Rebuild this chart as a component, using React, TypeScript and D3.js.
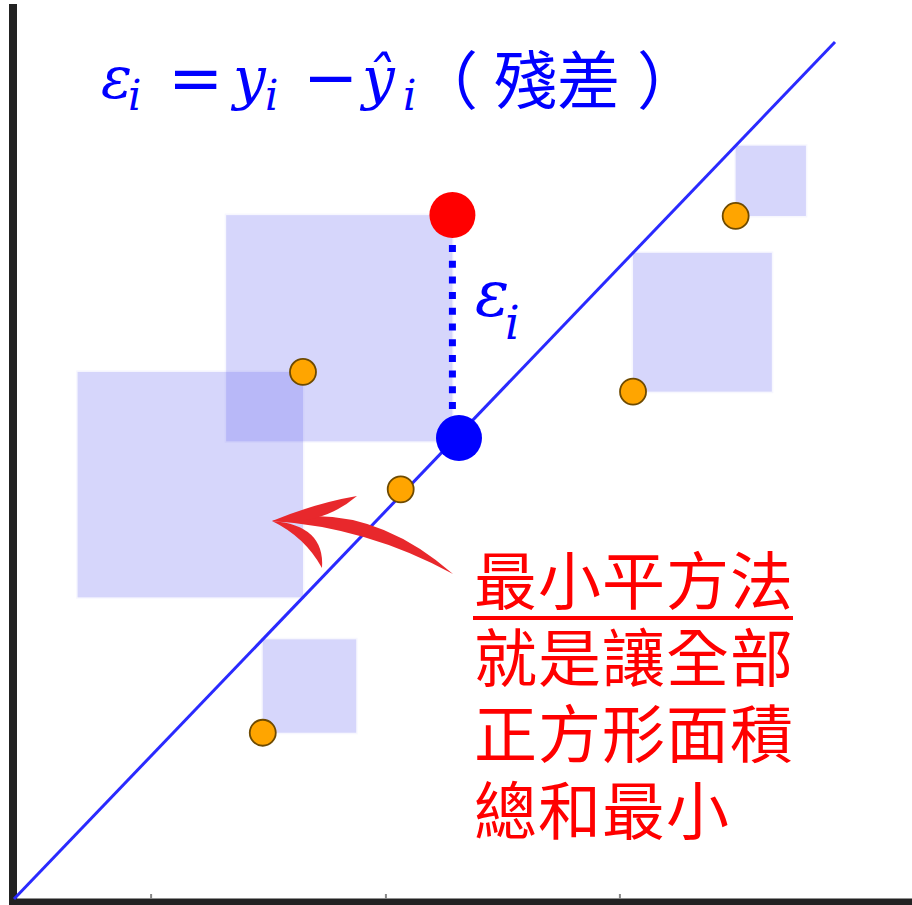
import React, { useEffect } from "react";
import * as d3 from "d3";

// ---- data ----
const xDomain = [0, 10];
const yDomain = [0, 10];
const lineIntercept = 0;
const lineSlope = 1;
const pointX = [3.52, 4.71, 7.54, 8.79, 3.03];
const pointY = [6.15, 4.78, 5.92, 7.97, 1.94];
const highlightX = 5.34;
const highlightY = 7.98;
const fittedX = 5.42;
const fittedY = 5.38;
const xTicks = [1.67, 4.53, 7.38];
const noteLines = ["最小平方法", "就是讓全部", "正方形面積", "總和最小"];
const titleCJK = "殘差";

const W = 912;
const H = 905;

export default function App() {
  useEffect(() => {
    document.body.style.margin = "0";
  }, []);

  const x = d3.scaleLinear().domain(xDomain).range([14, 835]);
  const y = d3.scaleLinear().domain(yDomain).range([899, 42]);
  const fit = (v: number) => lineIntercept + lineSlope * v;

  const allX = [...pointX, highlightX];
  const allY = [...pointY, highlightY];

  const squares = allX.map((vx, i) => {
    const py = y(allY[i]);
    const ly = y(fit(vx));
    const s = Math.abs(ly - py);
    const px = x(vx);
    const above = py < ly;
    return {
      x: above ? px - s : px,
      y: Math.min(py, ly),
      s,
    };
  });

  const linePath = d3.line<number>()
    .x((d) => x(d))
    .y((d) => y(fit(d)))(xDomain);

  const mathFont = "'DejaVu Serif', serif";
  const cjkFont = "'Noto Sans CJK TC', 'Noto Sans CJK SC', sans-serif";
  const blue = "#0000ff";

  return (
    <svg
      width={W}
      height={H}
      viewBox={`0 0 ${W} ${H}`}
      style={{ position: "absolute", left: 0, top: 0, display: "block", background: "#fff" }}
    >
      {/* residual squares */}
      {squares.map((sq, i) => (
        <g key={i}>
          <rect x={sq.x - 1.5} y={sq.y - 1.5} width={sq.s + 3} height={sq.s + 3} fill="#6464f0" opacity={0.05} />
          <rect x={sq.x} y={sq.y} width={sq.s} height={sq.s} fill="#6464f0" opacity={0.22} />
        </g>
      ))}

      {/* axes */}
      <line x1={13} y1={4} x2={13} y2={905} stroke="#222" strokeWidth={8} />
      <line x1={9} y1={902} x2={912} y2={902} stroke="#222" strokeWidth={7} />
      {xTicks.map((t, i) => (
        <line key={i} x1={x(t)} y1={894} x2={x(t)} y2={899} stroke="#888" strokeWidth={2} />
      ))}

      {/* regression line */}
      <path d={linePath || ""} stroke="#2a2aff" strokeWidth={3} fill="none" />

      {/* residual dotted line */}
      <line
        x1={x(highlightX)}
        y1={245}
        x2={x(highlightX)}
        y2={418}
        stroke={blue}
        strokeWidth={7}
        strokeDasharray="7 8.7"
      />

      {/* data points */}
      {pointX.map((vx, i) => (
        <circle key={i} cx={x(vx)} cy={y(pointY[i])} r={13} fill="#ffa500" stroke="#6e4a00" strokeWidth={1.8} />
      ))}
      <circle cx={x(highlightX)} cy={y(highlightY)} r={23} fill="#ff0000" />
      <circle cx={x(fittedX)} cy={y(fittedY)} r={23} fill={blue} />

      {/* red arrow */}
      <g fill="#e8282c">
        <path d="M 272,521 Q 367,499 453,574 Q 367,527 272,521 Z" />
        <path d="M 272,521 Q 316,503 357,496 Q 322,526 272,521 Z" />
        <path d="M 272,521 Q 325,525 322,568 Q 305,537 272,521 Z" />
      </g>

      {/* title formula */}
      <g fill={blue} fontFamily={mathFont} fontStyle="italic">
        <text x={101} y={98} fontSize={58}>ε</text>
        <text x={128} y={110} fontSize={42}>i</text>
        <text x={168} y={100} fontSize={66} fontStyle="normal">=</text>
        <text x={233} y={98} fontSize={58}>y</text>
        <text x={265} y={110} fontSize={42}>i</text>
        <text x={303} y={100} fontSize={66} fontStyle="normal">−</text>
        <text x={362} y={98} fontSize={58}>ŷ</text>
        <text x={403} y={110} fontSize={42}>i</text>
      </g>
      <g fill={blue} fontFamily={cjkFont} fontSize={63}>
        <text x={415} y={103}>（</text>
        <text x={494} y={103}>{titleCJK}</text>
        <text x={637} y={103}>）</text>
      </g>

      {/* residual label */}
      <g fill={blue} fontFamily={mathFont} fontStyle="italic">
        <text x={475} y={316} fontSize={64}>ε</text>
        <text x={505} y={339} fontSize={46}>i</text>
      </g>

      {/* note */}
      <g fill="#ff0000" fontFamily={cjkFont} fontSize={63} letterSpacing={1}>
        {noteLines.map((t, i) => (
          <text key={i} x={474} y={604 + i * 76.7}>{t}</text>
        ))}
      </g>
      <rect x={473} y={616} width={320} height={4} fill="#ff0000" />
    </svg>
  );
}
